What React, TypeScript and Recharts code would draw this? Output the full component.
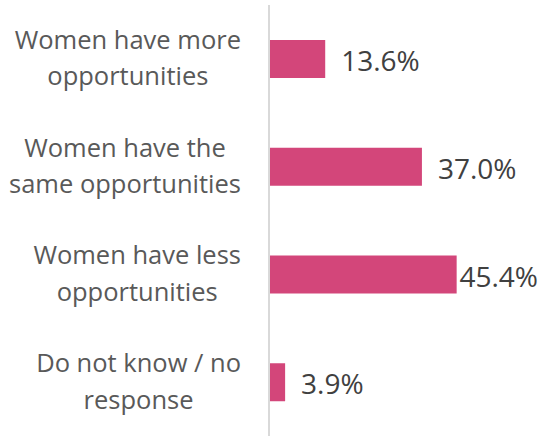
import React from "react";
import { BarChart, Bar, XAxis, YAxis, LabelList } from "recharts";

const categories = [
  "Women have more\nopportunities",
  "Women have the\nsame opportunities",
  "Women have less\nopportunities",
  "Do not know / no\nresponse",
];
const shares = [13.6, 37.0, 45.4, 3.9];

const data = categories.map((c, i) => ({ name: c, value: shares[i] }));

const FONT = "'Open Sans', sans-serif";
const CHART_W = 542;
const TICK_SIZE = 25.5;
const VALUE_SIZE = 28;

let ctx: CanvasRenderingContext2D | null = null;
function textWidth(s: string, size: number) {
  if (!ctx) ctx = document.createElement("canvas").getContext("2d");
  if (!ctx) return s.length * size * 0.55;
  ctx.font = `${size}px 'Open Sans', sans-serif`;
  return ctx.measureText(s).width;
}

function CategoryTick(props: any) {
  const { y, payload } = props;
  const lines = String(payload.value).split("\n");
  const maxW = Math.max(...lines.map((l) => textWidth(l, TICK_SIZE)));
  const cx = 241 - maxW / 2;
  return (
    <text x={cx} y={y} textAnchor="middle" fill="#595959" fontSize={TICK_SIZE} fontFamily={FONT}>
      {lines.map((ln, i) => (
        <tspan key={i} x={cx} dy={i === 0 ? -10 : 36.5}>
          {ln}
        </tspan>
      ))}
    </text>
  );
}

function ValueLabel(props: any) {
  const { x, y, width, height, value } = props;
  const text = `${Number(value).toFixed(1)}%`;
  const estW = textWidth(text, VALUE_SIZE);
  let tx = x + width + 16;
  let anchor: "start" | "end" = "start";
  if (tx + estW > CHART_W - 3) {
    tx = CHART_W - 4;
    anchor = "end";
  }
  return (
    <text
      x={tx}
      y={y + height / 2}
      dy={12}
      textAnchor={anchor}
      fill="#404040"
      fontSize={VALUE_SIZE}
      fontFamily={FONT}
    >
      {text}
    </text>
  );
}

export default function App() {
  return (
    <div style={{ position: "absolute", left: 0, top: 0, background: "#fff" }}>
      <BarChart
        width={CHART_W}
        height={436}
        data={data}
        layout="vertical"
        margin={{ top: 5, right: 25, bottom: 0, left: 0 }}
      >
        <XAxis type="number" domain={[0, 60]} hide />
        <YAxis
          type="category"
          dataKey="name"
          width={269}
          axisLine={{ stroke: "#d9d9d9", strokeWidth: 2 }}
          tickLine={false}
          tick={<CategoryTick />}
          interval={0}
        />
        <Bar dataKey="value" fill="#d3467a" barSize={38} isAnimationActive={false}>
          <LabelList dataKey="value" content={<ValueLabel />} />
        </Bar>
      </BarChart>
    </div>
  );
}
